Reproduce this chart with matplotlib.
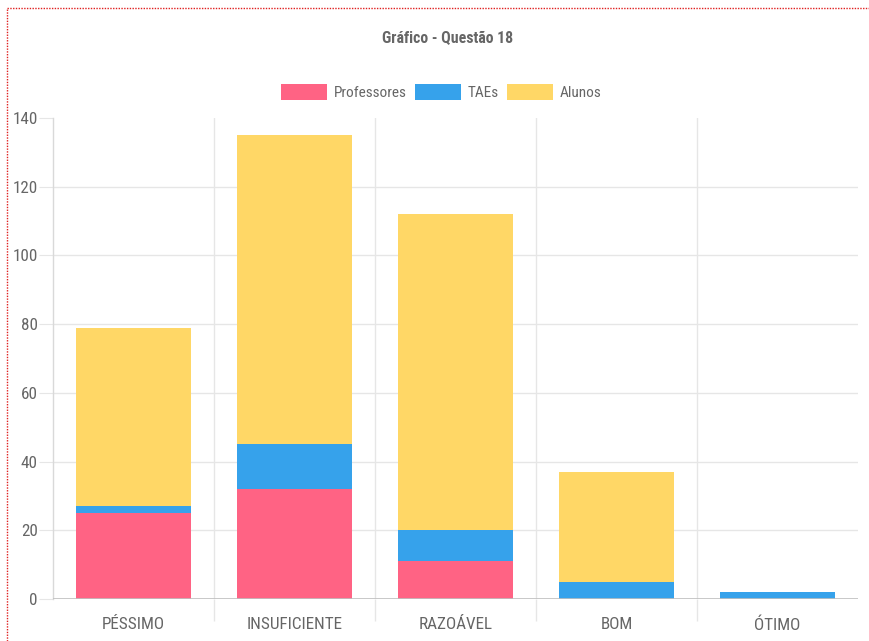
import numpy as np
import matplotlib
matplotlib.use("Agg")
import matplotlib.pyplot as plt
from matplotlib.lines import Line2D

# ===== DADOS =====
categorias = ["PÉSSIMO", "INSUFICIENTE", "RAZOÁVEL", "BOM", "ÓTIMO"]
professores = [25, 32, 11, 0, 0]
taes = [2, 13, 9, 5, 2]
alunos = [52, 90, 92, 32, 0]
y_ticks = [0, 20, 40, 60, 80, 100, 120, 140]

cor_prof = "#FF6384"
cor_tae = "#36A2EB"
cor_alunos = "#FFD766"
cor_texto = "#666666"

plt.rcParams["font.family"] = ["Roboto Condensed", "DejaVu Sans"]
fs = 12.3

fig = plt.figure(figsize=(8.7, 6.41), dpi=100)
ax = fig.add_axes([53 / 870, 1 - 599 / 641, 805 / 870, 481 / 641])

x = np.arange(len(categorias))
prof = np.array(professores)
tae = np.array(taes)
alu = np.array(alunos)
w = 0.72

ax.bar(x, prof, w, color=cor_prof, label="Professores", zorder=3)
ax.bar(x, tae, w, bottom=prof, color=cor_tae, label="TAEs", zorder=3)
ax.bar(x, alu, w, bottom=prof + tae, color=cor_alunos, label="Alunos", zorder=3)

ax.set_xlim(-0.5, len(categorias) - 0.5)
ax.set_ylim(0, 140)

# eixos / grades no estilo Chart.js
for s in ["top", "right", "bottom"]:
    ax.spines[s].set_visible(False)
ax.spines["left"].set_color("#d9d9d9")
ax.spines["left"].set_linewidth(1)

ax.set_yticks(y_ticks)
ax.tick_params(axis="y", length=10, color="#e6e6e6", labelsize=fs,
               labelcolor=cor_texto, pad=1)
for v in y_ticks[1:-1]:
    ax.axhline(v, color="#e6e6e6", lw=1, zorder=1)
ax.axhline(0, color="#bfbfbf", lw=1.2, zorder=4)

ax.set_xticks(x)
ax.set_xticklabels(categorias)
ax.tick_params(axis="x", length=0, labelsize=fs, labelcolor=cor_texto, pad=13)
ax.set_xticks(np.arange(1, len(categorias)) - 0.5, minor=True)
ax.tick_params(axis="x", which="minor", length=16, color="#e6e6e6", width=1)
for b in np.arange(1, len(categorias)) - 0.5:
    ax.axvline(b, color="#e6e6e6", lw=1, zorder=1)

# título e legenda
fig.text(448 / 870, 1 - 38 / 641, "Gráfico - Questão 18", ha="center", va="center",
         fontsize=11.4, fontweight="bold", color=cor_texto)
ax.legend(loc="center", bbox_to_anchor=(441.5 / 870, 1 - 92 / 641),
          bbox_transform=fig.transFigure, ncol=3, frameon=False,
          fontsize=11, labelcolor=cor_texto, handlelength=3.0,
          handleheight=1.3, handletextpad=0.46, columnspacing=0.52,
          borderpad=0, borderaxespad=0)

# moldura pontilhada vermelha
fig.add_artist(Line2D([7 / 870, 1], [1 - 8 / 641, 1 - 8 / 641], color="#e02020",
                      lw=1, ls=(0, (1, 1)), transform=fig.transFigure))
fig.add_artist(Line2D([7 / 870, 7 / 870], [0, 1 - 8 / 641], color="#e02020",
                      lw=1, ls=(0, (1, 1)), transform=fig.transFigure))

fig.savefig("out.png", dpi=100)
